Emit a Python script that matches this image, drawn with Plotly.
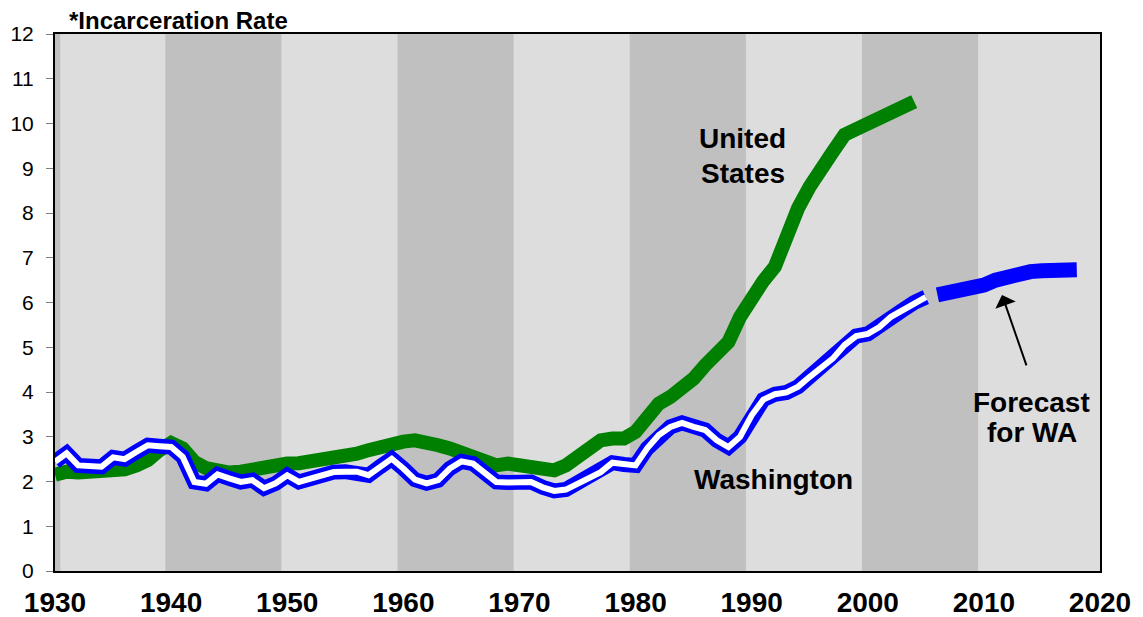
import plotly.graph_objects as go

# ---- data ----
us_years = list(range(1930, 2005))
us_rate = [2.15, 2.22, 2.20, 2.20, 2.22, 2.27, 2.27, 2.36, 2.48, 2.70,
           2.86, 2.74, 2.44, 2.30, 2.22, 2.20, 2.22, 2.28, 2.32, 2.36,
           2.40, 2.41, 2.44, 2.48, 2.55, 2.58, 2.62, 2.70, 2.78, 2.84,
           2.89, 2.92, 2.89, 2.81, 2.74, 2.66, 2.57, 2.49, 2.36, 2.40,
           2.36, 2.34, 2.29, 2.25, 2.36, 2.55, 2.74, 2.92, 2.96, 2.96,
           3.11, 3.41, 3.74, 3.89, 4.08, 4.30, 4.60, 4.86, 5.12, 5.68,
           6.13, 6.48, 6.80, 7.47, 8.11, 8.59, 8.93, 9.37, 9.75, 9.87,
           10.01, 10.10, 10.23, 10.42, 10.49]

wa_years = list(range(1930, 2006))
wa_rate = [2.44, 2.63, 2.36, 2.36, 2.33, 2.54, 2.50, 2.66, 2.81, 2.79,
           2.77, 2.55, 1.99, 1.95, 2.16, 2.07, 1.99, 2.03, 1.85, 1.96,
           2.14, 1.99, 2.07, 2.16, 2.21, 2.22, 2.22, 2.14, 2.33, 2.51,
           2.29, 2.04, 1.96, 2.03, 2.29, 2.45, 2.40, 2.21, 1.99, 1.98,
           1.99, 1.99, 1.87, 1.79, 1.82, 1.96, 2.07, 2.21, 2.42, 2.38,
           2.36, 2.74, 3.04, 3.22, 3.31, 3.22, 3.15, 2.92, 2.77, 3.00,
           3.48, 3.83, 3.95, 3.99, 4.12, 4.34, 4.56, 4.75, 5.05, 5.25,
           5.30, 5.45, 5.68, 5.83, 6.00, 6.12]

fc_years = list(range(2006, 2019))
fc_rate = [6.17, 6.22, 6.26, 6.32, 6.39, 6.50, 6.59, 6.65, 6.69, 6.71,
           6.73, 6.73, 6.73]

decade_ticks = list(range(1930, 2021, 10))
dark_band_starts = [1939.5, 1959.5, 1979.5, 1999.5]

FONT = "Liberation Sans, Arial, sans-serif"
LIGHT = "#DDDDDD"
DARK = "#C0C0C0"
GREEN = "#008000"
BLUE = "#0000FF"

fig = go.Figure()

fig.add_trace(go.Scatter(x=us_years, y=us_rate, mode="lines",
                         line=dict(color=GREEN, width=14), hoverinfo="skip",
                         showlegend=False))
fig.add_trace(go.Scatter(x=wa_years, y=wa_rate, mode="lines",
                         line=dict(color=BLUE, width=15), hoverinfo="skip",
                         showlegend=False))
fig.add_trace(go.Scatter(x=wa_years, y=wa_rate, mode="lines",
                         line=dict(color="white", width=6), hoverinfo="skip",
                         showlegend=False))
fig.add_trace(go.Scatter(x=fc_years, y=fc_rate, mode="lines",
                         line=dict(color=BLUE, width=15), hoverinfo="skip",
                         showlegend=False))

shapes = []
for s in dark_band_starts:
    shapes.append(dict(type="rect", xref="x", yref="paper", x0=s, x1=s + 10,
                       y0=0, y1=1, fillcolor=DARK, line=dict(width=0),
                       layer="below"))
shapes.append(dict(type="rect", xref="x", yref="paper", x0=1930, x1=1930.45,
                   y0=0, y1=1, fillcolor=DARK, line=dict(width=0),
                   layer="below"))

annotations = [
    dict(text="<b>*Incarceration Rate</b>", xref="paper", yref="paper",
         x=0.0115, y=1.026, xanchor="left", yanchor="middle", showarrow=False,
         font=dict(family=FONT, size=24, color="black")),
    dict(text="<b>United</b>", x=1989.25, y=9.66, showarrow=False,
         xanchor="center", yanchor="middle",
         font=dict(family=FONT, size=28, color="black")),
    dict(text="<b>States</b>", x=1989.25, y=8.89, showarrow=False,
         xanchor="center", yanchor="middle",
         font=dict(family=FONT, size=28, color="black")),
    dict(text="<b>Washington</b>", x=1991.92, y=2.05, showarrow=False,
         xanchor="center", yanchor="middle",
         font=dict(family=FONT, size=28, color="black")),
    dict(text="<b>Forecast</b>", x=2014.14, y=3.77, showarrow=False,
         xanchor="center", yanchor="middle",
         font=dict(family=FONT, size=28, color="black")),
    dict(text="<b>for WA</b>", x=2014.14, y=3.10, showarrow=False,
         xanchor="center", yanchor="middle",
         font=dict(family=FONT, size=28, color="black")),
    dict(text="", x=2011.56, y=6.17, ax=2013.71, ay=4.56, axref="x", ayref="y",
         showarrow=True, arrowhead=1, arrowsize=1.8, arrowwidth=2,
         arrowcolor="black", standoff=0),
]

fig.update_layout(
    width=1143, height=617,
    margin=dict(l=55, r=43, t=34, b=46, pad=0),
    paper_bgcolor="white", plot_bgcolor=LIGHT,
    shapes=shapes, annotations=annotations,
    showlegend=False,
    xaxis=dict(range=[1930, 2020], tickvals=decade_ticks,
               ticktext=[str(t) for t in decade_ticks],
               showgrid=False, zeroline=False, ticks="",
               showline=True, linecolor="black", linewidth=2, mirror=True,
               tickfont=dict(family=FONT, size=28, color="black", weight="bold"),
               ticklabelstandoff=5, automargin=False),
    yaxis=dict(range=[0, 12], dtick=1, showgrid=False, zeroline=False,
               ticks="outside", ticklen=7, tickcolor="#808080", tickwidth=1,
               showline=True, linecolor="black", linewidth=2, mirror=True,
               tickfont=dict(family=FONT, size=21, color="black"),
               ticklabelstandoff=8, automargin=False),
)

fig.write_html("out.html",
               config={"displayModeBar": False, "staticPlot": True},
               post_script="document.body.style.margin='0';"
                           "document.body.style.overflow='hidden';")
